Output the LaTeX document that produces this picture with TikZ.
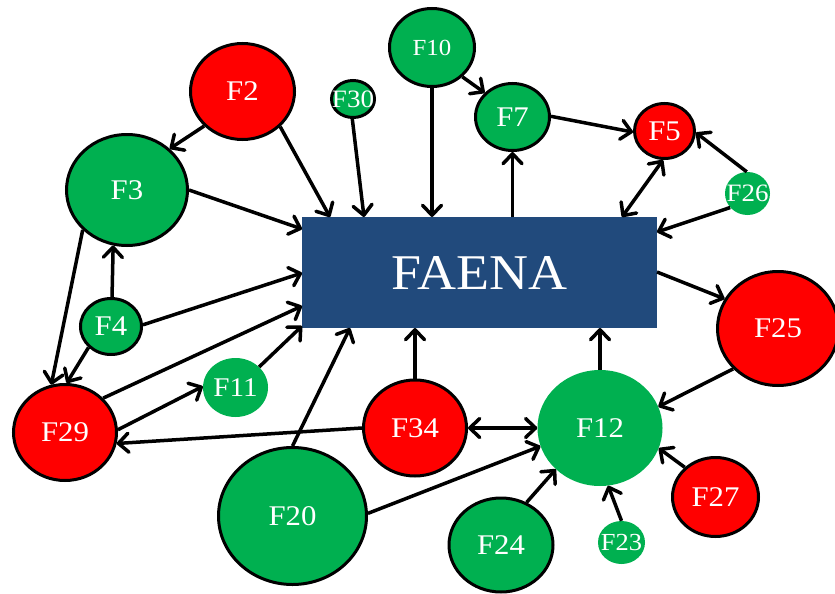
\documentclass[tikz,border=0pt]{standalone}
\usepackage{fontspec}
\setmainfont{Liberation Serif}[FakeStretch=1.08]
\usetikzlibrary{shapes.geometric,arrows.meta}
\definecolor{ngreen}{HTML}{00B050}
\definecolor{nred}{HTML}{FF0000}
\definecolor{nblue}{HTML}{214A7C}
\newcommand{\fz}[1]{\fontsize{#1}{#1}\selectfont}
\newcommand{\lbl}[1]{\makebox[0pt]{#1}}
\tikzset{
  nd/.style={ellipse, inner sep=0pt, text=white, font=\fz{28.5}},
  rn/.style={nd, fill=nred, draw=black, line width=3pt},
  gn/.style={nd, fill=ngreen, draw=black, line width=3pt},
  gx/.style={nd, fill=ngreen},
  arr/.style={line width=3.5pt, -{Straight Barb[length=10pt,width=19pt,round]}},
  dbl/.style={line width=3.5pt, {Straight Barb[length=10pt,width=19pt,round]}-{Straight Barb[length=10pt,width=19pt,round]}}
}
\begin{document}
\begin{tikzpicture}[x=1pt,y=-1pt]
\useasboundingbox (0,0) rectangle (835,594);
\node[rectangle, fill=nblue, minimum width=355pt, minimum height=111pt, inner sep=0pt, outer sep=0pt, text=white, font=\fz{50}] (FAENA) at (479.5,272.5) {FAENA};
\node[rn, minimum width=104pt, minimum height=96pt] (F2) at (242.5,91.5) {\lbl{F2}};
\node[gn, minimum width=43pt, minimum height=37pt, font=\fz{25}] (F30) at (353,99) {\lbl{F30}};
\node[gn, minimum width=121pt, minimum height=111pt] (F3) at (127,190) {\lbl{F3}};
\node[gn, minimum width=85pt, minimum height=78pt, font=\fz{23}] (F10) at (432,47.5) {\lbl{F10}};
\node[gn, minimum width=74pt, minimum height=67pt] (F7) at (512.5,117) {\lbl{F7}};
\node[rn, minimum width=60pt, minimum height=55pt] (F5) at (664.5,131) {\lbl{F5}};
\node[gx, minimum width=45pt, minimum height=43pt, font=\fz{25}] (F26) at (747.5,193.5) {\lbl{F26}};
\node[gn, minimum width=61pt, minimum height=56pt] (F4) at (111,326.5) {\lbl{F4}};
\node[rn, minimum width=103pt, minimum height=96pt] (F29) at (65,432.5) {\lbl{F29}};
\node[gx, minimum width=65pt, minimum height=59pt, font=\fz{27}] (F11) at (235.5,387.5) {\lbl{F11}};
\node[gn, minimum width=148pt, minimum height=137pt] (F20) at (292.5,516) {\lbl{F20}};
\node[rn, minimum width=103pt, minimum height=96pt] (F34) at (415,428) {\lbl{F34}};
\node[gx, minimum width=125pt, minimum height=116pt] (F12) at (600,428) {\lbl{F12}};
\node[rn, minimum width=121pt, minimum height=114pt] (F25) at (778,328.5) {\lbl{F25}};
\node[gn, minimum width=104pt, minimum height=94pt] (F24) at (501,545) {\lbl{F24}};
\node[gx, minimum width=47pt, minimum height=43pt, font=\fz{24.5}] (F23) at (621.5,542.5) {\lbl{F23}};
\node[rn, minimum width=86pt, minimum height=79pt] (F27) at (715.5,497) {\lbl{F27}};

\draw[arr] (F2.222) -- (F3.44);
\draw[arr] (F2.317) -- ([xshift=28pt]FAENA.north west);
\draw[arr] (F30.268) -- ([xshift=62pt]FAENA.north west);
\draw[arr] (F3.0) -- ([yshift=-12pt]FAENA.north west);
\draw[arr] (F4.88) -- (F3.256);
\draw[arr] (F4.3) -- ([yshift=-56pt]FAENA.north west);
\draw[arr] (F29.42) -- ([yshift=-89pt]FAENA.north west);
\draw[arr] (F11.41) -- ([yshift=2pt]FAENA.south west);
\draw[arr] (F29.3) -- (F11.178);
\draw[arr] (F34.180) -- (F29.348);
\draw[arr] (F20.90) -- ([xshift=48pt]FAENA.south west);
\draw[arr] (F20.2) -- (F12.197);
\draw[arr] (F34.90) -- ([xshift=113pt]FAENA.south west);
\draw[dbl] (F34.0) -- (F12.180);
\draw[arr] (F12.90) -- ([xshift=298pt]FAENA.south west);
\draw[arr] ([yshift=-55pt]FAENA.north east) -- (F25.151);
\draw[arr] (F25.222) -- (F12.20);
\draw[arr] (F24.59) -- (F12.223);
\draw[arr] (F23.90) -- (F12.278);
\draw[arr] (F27.136) -- (F12.341);
\draw[arr] (F10.270) -- ([xshift=130pt]FAENA.north west);
\draw[arr] (F10.316) -- (F7.139);
\draw[arr] ([xshift=210.5pt]FAENA.north west) -- (F7.270);
\draw[arr] (F7.1) -- (F5.182);
\draw[dbl] (F5.267) -- ([xshift=320pt]FAENA.north west);
\draw[arr] (F26.92) -- (F5.357);
\draw[arr] (F26.219) -- ([yshift=-15pt]FAENA.north east);
\draw[arr] (F3.222) -- (F29.106);
\draw[arr] (F4.223) -- (F29.88);
\end{tikzpicture}
\end{document}
